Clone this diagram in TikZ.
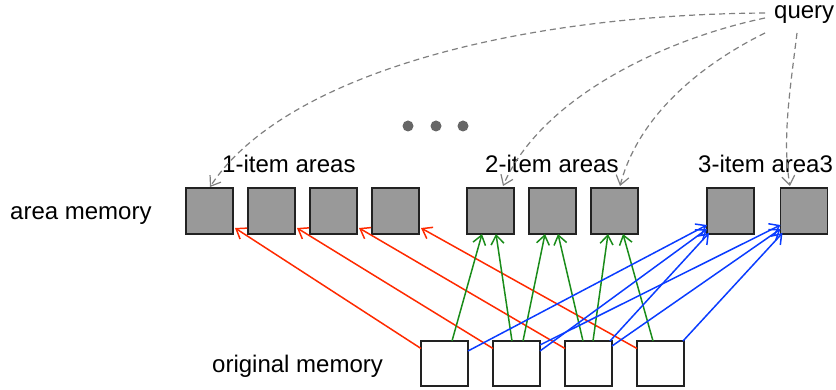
\documentclass[tikz,border=0pt]{standalone}
\usepackage{fontspec}
\setmainfont{Liberation Sans}
\usetikzlibrary{arrows.meta,calc}
\definecolor{boxgray}{HTML}{999999}
\definecolor{boxline}{HTML}{222222}
\definecolor{myred}{HTML}{FF2A00}
\definecolor{mygreen}{HTML}{1A8C1A}
\definecolor{myblue}{HTML}{0A3CFF}
\definecolor{dashgray}{HTML}{808080}
\definecolor{dotgray}{HTML}{666666}
\begin{document}
\begin{tikzpicture}[x=1pt,y=-1pt,
  areabox/.style={draw=boxline,line width=1.6pt,fill=boxgray,minimum width=47pt,minimum height=46pt,inner sep=0pt,outer sep=0pt},
  origbox/.style={draw=boxline,line width=1.6pt,fill=white,minimum width=47pt,minimum height=45pt,inner sep=0pt,outer sep=0pt},
  lbl/.style={inner sep=0pt,anchor=base west,font=\fontsize{24}{28}\selectfont},
  dotnode/.style={circle,fill=dotgray,minimum size=11pt,inner sep=0pt},
  tip/.style={-{Straight Barb[length=9pt,width=13pt]}},
  redarr/.style={tip,draw=myred,line width=1.5pt},
  greenarr/.style={tip,draw=mygreen,line width=1.5pt},
  bluearr/.style={tip,draw=myblue,line width=1.5pt},
  qarr/.style={tip,draw=dashgray,line width=1.2pt,dash pattern=on 6pt off 4pt},
]
\useasboundingbox (0,0) rectangle (836,390);

% area memory
\node[areabox] (a1) at (209.5,211) {};
\node[areabox] (a2) at (271.5,211) {};
\node[areabox] (a3) at (333.5,211) {};
\node[areabox] (a4) at (395.5,211) {};
\node[areabox] (a5) at (490.5,211) {};
\node[areabox] (a6) at (552.5,211) {};
\node[areabox] (a7) at (614.5,211) {};
\node[areabox] (a8) at (730.5,211) {};
\node[areabox] (a9) at (804,211) {};

% original memory
\node[origbox] (o1) at (444.5,363.5) {};
\node[origbox] (o2) at (516.5,363.5) {};
\node[origbox] (o3) at (588.5,363.5) {};
\node[origbox] (o4) at (660.5,363.5) {};

% labels
\node[lbl] (lam) at (10,220) {area memory};
\node[lbl] (lom) at (212,372) {original memory};
\node[lbl] (l1) at (222,173) {1-item areas};
\node[lbl] (l2) at (485,173) {2-item areas};
\node[lbl] (l3) at (698,173) {3-item area3};
\node[lbl] (q) at (774,18.5) {query};

% dots
\node[dotnode] (d1) at (408,126) {};
\node[dotnode] (d2) at (436,126) {};
\node[dotnode] (d3) at (463,126) {};

% red: 1-item
\foreach \i in {1,2,3,4}{
  \draw[redarr] ($(o\i.north west)+(0,7.5)$) -- ($(a\i.south east)+(2,-6)$);
}

% green: 2-item
\draw[greenarr] ($(o1.north)+(7.5,0)$) -- ($(a5.south)+(-8.5,0)$);
\draw[greenarr] ($(o2.north)+(-4.5,0)$) -- ($(a5.south)+(5.5,0)$);
\draw[greenarr] ($(o2.north)+(6.5,0)$) -- ($(a6.south)+(-7.5,0)$);
\draw[greenarr] ($(o3.north)+(-5.5,0)$) -- ($(a6.south)+(5.5,0)$);
\draw[greenarr] ($(o3.north)+(4.5,0)$) -- ($(a7.south)+(-6.5,0)$);
\draw[greenarr] ($(o4.north)+(-7.5,0)$) -- ($(a7.south)+(8.5,0)$);

% blue: 3-item
\draw[bluearr] ($(o1.north east)+(0,10)$) -- ($(a8.south west)+(0,-9)$);
\draw[bluearr] ($(o2.north east)+(0,10)$) -- ($(a8.south west)+(0,-5)$);
\draw[bluearr] ($(o3.north east)+(-2,0)$) -- ($(a8.south west)+(2,-1)$);
\draw[bluearr] ($(o2.north east)+(0,4)$) -- ($(a9.south west)+(0,-9)$);
\draw[bluearr] ($(o3.north east)+(0,5)$) -- ($(a9.south west)+(0,-5)$);
\draw[bluearr] ($(o4.north east)+(-1,0)$) -- ($(a9.south west)+(2,-1)$);

% query
\draw[qarr] ($(q.base west)+(-9,-5.5)$) .. controls (500,15) and (280,80) .. ($(a1.north)+(0.5,-1)$);
\draw[qarr] ($(q.base west)+(-9,-0.5)$) .. controls (660,40) and (540,100) .. ($(a5.north)+(12.5,-2)$);
\draw[qarr] ($(q.base west)+(-9,14.5)$) .. controls (710,60) and (640,110) .. ($(a7.north)+(5.5,-2)$);
\draw[qarr] ($(q.base west)+(23,14.5)$) .. controls (790,90) and (782,140) .. ($(a9.north)+(-14,-2)$);
\end{tikzpicture}
\end{document}
